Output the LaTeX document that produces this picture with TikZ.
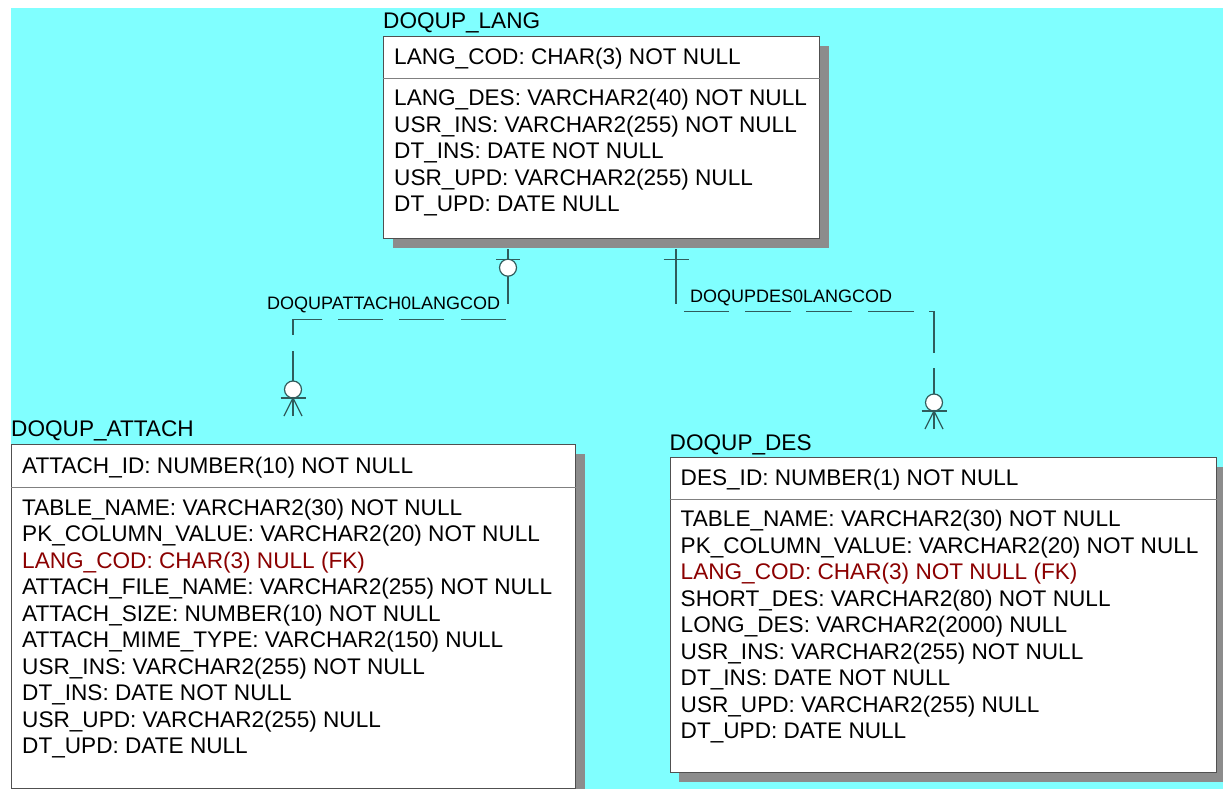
\documentclass[tikz,border=0pt]{standalone}
\usepackage{fontspec}
\setmainfont{Liberation Sans}
\usetikzlibrary{positioning, shadows}
\definecolor{erdcyan}{HTML}{80FFFF}
\definecolor{boxgray}{HTML}{505050}
\definecolor{sepgray}{HTML}{808080}
\definecolor{shadowgray}{HTML}{8C8C8C}
\definecolor{relteal}{HTML}{305C5C}
\definecolor{fkred}{HTML}{8B0000}

\begin{document}
\begin{tikzpicture}[x=1pt, y=-1pt]
\tikzstyle{tablebox} = [rectangle, draw=boxgray, line width=1.2pt, fill=white, inner sep=0pt, anchor=north west, drop shadow={shadow xshift=9pt, shadow yshift=-9pt, fill=shadowgray, opacity=1}]
\tikzstyle{tabletitle} = [inner sep=0pt, anchor=base west, font=\fontsize{22.6}{26.5}\selectfont]
\tikzstyle{field} = [inner sep=0pt, anchor=base west, font=\fontsize{22.6}{26.5}\selectfont]
\tikzstyle{sepline} = [draw=sepgray, line width=1pt]
\tikzstyle{relline} = [draw=relteal, line width=1.2pt]
\tikzstyle{rellabel} = [inner sep=0pt, anchor=base west, font=\fontsize{18}{21}\selectfont]

\useasboundingbox (0,0) rectangle (1223,789);
\clip (0,0) rectangle (1223,789);
\fill[white] (0,0) rectangle (1223,789);
\fill[erdcyan] (11,8) rectangle (1223,789);

% DOQUP_LANG
\node (langT) [tabletitle] at (383,28.5) {DOQUP\_LANG};
\node (lang) [tablebox, minimum width=436pt, minimum height=202pt] at (383,36) {};
\draw[sepline] ([yshift=-42.5pt]lang.north west) -- ([yshift=-42.5pt]lang.north east);
\node (langPK) [field] at ([xshift=11pt, yshift=-28.5pt]lang.north west) {LANG\_COD: CHAR(3) NOT NULL};
\foreach \f [count=\i] in {LANG\_DES: VARCHAR2(40) NOT NULL, USR\_INS: VARCHAR2(255) NOT NULL, DT\_INS: DATE NOT NULL, USR\_UPD: VARCHAR2(255) NULL, DT\_UPD: DATE NULL}
  \node (lang-\i) [field] at ([xshift=11pt, yshift={-69.5pt-26.5pt*(\i-1)}]lang.north west) {\f};

% DOQUP_ATTACH
\node (attachT) [tabletitle] at (11,436.5) {DOQUP\_ATTACH};
\node (attach) [tablebox, minimum width=564pt, minimum height=344pt] at (11,444) {};
\draw[sepline] ([yshift=-43.5pt]attach.north west) -- ([yshift=-43.5pt]attach.north east);
\node (attachPK) [field] at ([xshift=11pt, yshift=-29pt]attach.north west) {ATTACH\_ID: NUMBER(10) NOT NULL};
\foreach \f [count=\i] in {TABLE\_NAME: VARCHAR2(30) NOT NULL, PK\_COLUMN\_VALUE: VARCHAR2(20) NOT NULL, {\color{fkred}LANG\_COD: CHAR(3) NULL (FK)}, ATTACH\_FILE\_NAME: VARCHAR2(255) NOT NULL, ATTACH\_SIZE: NUMBER(10) NOT NULL, ATTACH\_MIME\_TYPE: VARCHAR2(150) NULL, USR\_INS: VARCHAR2(255) NOT NULL, DT\_INS: DATE NOT NULL, USR\_UPD: VARCHAR2(255) NULL, DT\_UPD: DATE NULL}
  \node (attach-\i) [field] at ([xshift=11pt, yshift={-71pt-26.5pt*(\i-1)}]attach.north west) {\f};

% DOQUP_DES
\node (desT) [tabletitle] at (669.5,450) {DOQUP\_DES};
\node (des) [tablebox, minimum width=546pt, minimum height=315pt] at (669.5,457) {};
\draw[sepline] ([yshift=-42.5pt]des.north west) -- ([yshift=-42.5pt]des.north east);
\node (desPK) [field] at ([xshift=11pt, yshift=-28.5pt]des.north west) {DES\_ID: NUMBER(1) NOT NULL};
\foreach \f [count=\i] in {TABLE\_NAME: VARCHAR2(30) NOT NULL, PK\_COLUMN\_VALUE: VARCHAR2(20) NOT NULL, {\color{fkred}LANG\_COD: CHAR(3) NOT NULL (FK)}, SHORT\_DES: VARCHAR2(80) NOT NULL, LONG\_DES: VARCHAR2(2000) NULL, USR\_INS: VARCHAR2(255) NOT NULL, DT\_INS: DATE NOT NULL, USR\_UPD: VARCHAR2(255) NULL, DT\_UPD: DATE NULL}
  \node (des-\i) [field] at ([xshift=11pt, yshift={-69.5pt-26.5pt*(\i-1)}]des.north west) {\f};

% relation columns
\coordinate (c1) at (508,0);
\coordinate (c2) at (293,0);
\coordinate (c3) at (676,0);
\coordinate (c4) at (934,0);
\path (lang.south -| c1) ++(0,10) coordinate (r1s);
\path (attach.north -| c2) ++(0,-28) coordinate (r1e);
\path (lang.south -| c3) ++(0,10) coordinate (r2s);
\path (des.north -| c4) ++(0,-28) coordinate (r2e);

% DOQUPATTACH0LANGCOD
\draw[relline, dash pattern=on 55pt off 17pt on 45pt off 17pt on 45pt off 16pt on 45pt off 16pt on 45pt off 16pt on 70pt] (r1s) -- ++(0,70) -| (r1e);
\draw[relline] (r1s) ++(-12,10) -- ++(24,0);
\draw[relline, fill=white] (r1s) ++(0,18.5) circle (8.5);
\draw[relline, fill=white] (r1e) ++(0,-26.5) circle (8.5);
\draw[relline] (r1e) ++(-12.5,-18) -- ++(25,0);
\draw[relline] (r1e) ++(-9,0) -- ++(9,-18) -- ++(9,18);
\node (lbl1) [rellabel] at (267,309) {DOQUPATTACH0LANGCOD};

% DOQUPDES0LANGCOD
\draw[relline, dash pattern=on 55pt off 15pt on 45pt off 16pt on 46pt off 15pt on 46pt off 16pt on 46pt off 15pt on 47pt off 15pt on 70pt] (r2s) -- ++(0,62) -| (r2e);
\draw[relline] (r2s) ++(-12.5,10) -- ++(25,0);
\draw[relline, fill=white] (r2e) ++(0,-26.5) circle (8.5);
\draw[relline] (r2e) ++(-12.5,-18) -- ++(25,0);
\draw[relline] (r2e) ++(-9,0) -- ++(9,-18) -- ++(9,18);
\node (lbl2) [rellabel] at (690,302) {DOQUPDES0LANGCOD};

\end{tikzpicture}
\end{document}
